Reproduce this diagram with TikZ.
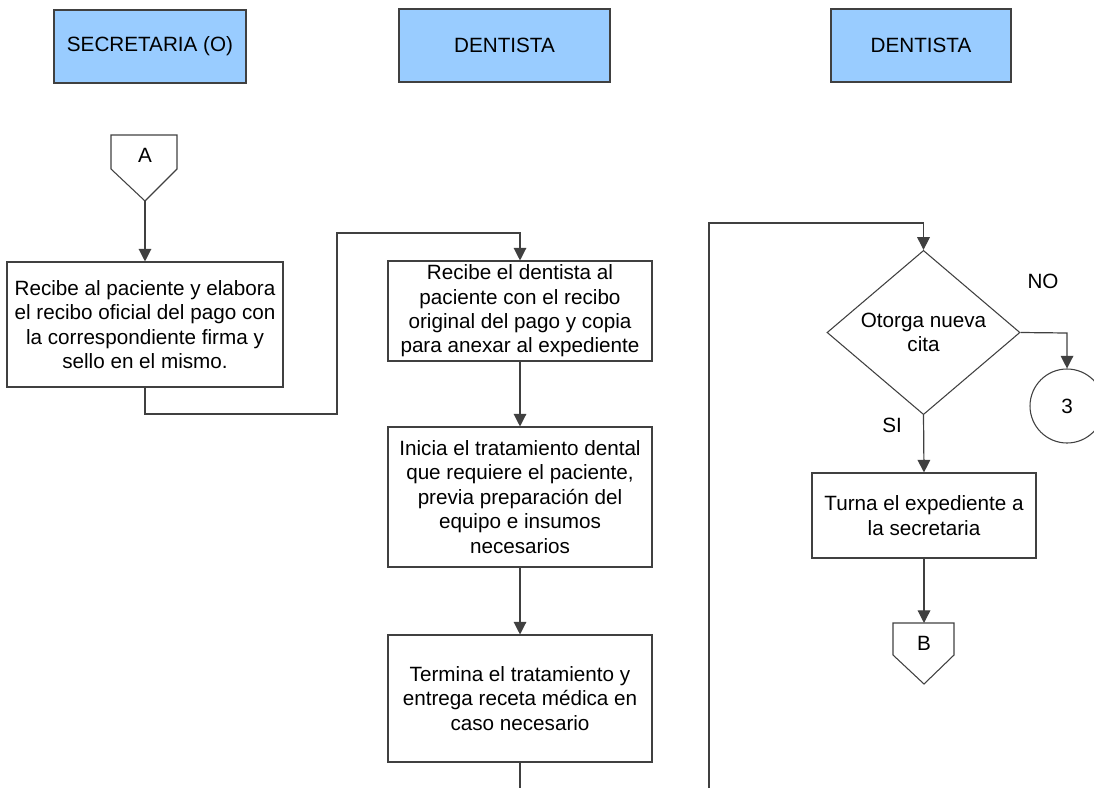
\documentclass[tikz,border=0pt]{standalone}
\usepackage{fontspec}
\setmainfont{Liberation Sans}
\usetikzlibrary{shapes.geometric,arrows.meta}
\newcommand{\pxu}{0.75pt}
\definecolor{hdrblue}{HTML}{99CCFF}
\definecolor{linegray}{HTML}{404040}
\tikzset{
  hdr/.style={draw=linegray, fill=hdrblue, line width=0.8pt, inner sep=0pt, font=\fontsize{15.5}{18}\selectfont},
  procbox/.style={draw=linegray, line width=0.8pt, inner sep=0pt, align=center, font=\fontsize{15.5}{18.3}\selectfont},
  dec/.style={draw=linegray, line width=0.8pt, shape=diamond, inner sep=0pt, align=center, font=\fontsize{15.5}{18.3}\selectfont},
  conncirc/.style={draw=linegray, line width=0.8pt, shape=circle, inner sep=0pt, font=\fontsize{15.5}{18.3}\selectfont},
  lbl/.style={inner sep=0pt, font=\fontsize{15.5}{18.3}\selectfont},
  shapeline/.style={draw=linegray, line width=0.8pt},
  flow/.style={draw=linegray, line width=0.9pt, -{Triangle[length=9.5pt,width=9.5pt]}},
  plain/.style={draw=linegray, line width=0.9pt}
}
\begin{document}
\begin{tikzpicture}[x=0.75pt,y=-0.75pt]
\useasboundingbox (0,0) rectangle (1094,788);
% headers
\node[hdr, minimum width=192*\pxu, minimum height=73*\pxu] (h1) at (150,46.5) {SECRETARIA (O)};
\node[hdr, minimum width=211*\pxu, minimum height=73*\pxu] (h2) at (504.5,45.5) {DENTISTA};
\node[hdr, minimum width=180*\pxu, minimum height=73*\pxu] (h3) at (921,45.5) {DENTISTA};
% off-page connector A
\draw[shapeline] (111,135) -- (177,135) -- (177,169) -- (145,201) -- (111,169) -- cycle;
\node[lbl] (A) at (145,155) {A};
\coordinate (Atip) at (145,201);
% column 1
\node[procbox, minimum width=276*\pxu, minimum height=125*\pxu] (b1) at (145,324.5)
  {Recibe al paciente y elabora\\el recibo oficial del pago con\\la correspondiente firma y\\sello en el mismo.};
\draw[flow] (Atip) -- (b1.north);
% column 2
\node[procbox, minimum width=264*\pxu, minimum height=100*\pxu] (b2) at (520,311)
  {Recibe el dentista al\\paciente con el recibo\\original del pago y copia\\para anexar al expediente};
\node[procbox, minimum width=264*\pxu, minimum height=140*\pxu] (b3) at (520,497)
  {Inicia el tratamiento dental\\que requiere el paciente,\\previa preparación del\\equipo e insumos\\necesarios};
\node[procbox, minimum width=264*\pxu, minimum height=127*\pxu] (b4) at (520,698.5)
  {Termina el tratamiento y\\entrega receta médica en\\caso necesario};
\coordinate (c1) at (145,414);
\coordinate (c2) at (337,414);
\coordinate (c3) at (337,233);
\coordinate (c4) at (520,233);
\draw[flow] (b1.south) -- (c1) -- (c2) -- (c3) -- (c4) -- (b2.north);
\draw[flow] (b2.south) -- (b3.north);
\draw[flow] (b3.south) -- (b4.north);
\coordinate (bot2) at (520,788);
\draw[plain] (b4.south) -- (bot2);
% column 3
\node[dec, minimum width=193*\pxu, minimum height=141*\pxu] (d1) at (923.5,332.5) {Otorga nueva\\cita};
\coordinate (r0) at (709,788);
\coordinate (r1) at (709,223);
\coordinate (r2) at (923.5,223);
\draw[flow] (r0) -- (r1) -- (r2) -- (d1.north);
\node[conncirc, minimum size=74*\pxu] (c3c) at (1067,406) {3};
\coordinate (n1) at (1067,333);
\draw[flow] (d1.east) -- (n1) -- (c3c.north);
\node[lbl] (no) at (1043,281) {NO};
\node[lbl] (si) at (892,425) {SI};
\node[procbox, minimum width=224*\pxu, minimum height=85*\pxu] (b5) at (924,515.5)
  {Turna el expediente a\\la secretaria};
\draw[flow] (d1.south) -- (b5.north);
\draw[shapeline] (893,623) -- (954,623) -- (954,655) -- (924,684) -- (893,655) -- cycle;
\node[lbl] (B) at (924,643) {B};
\coordinate (Btop) at (924,623);
\draw[flow] (b5.south) -- (Btop);
\end{tikzpicture}
\end{document}
